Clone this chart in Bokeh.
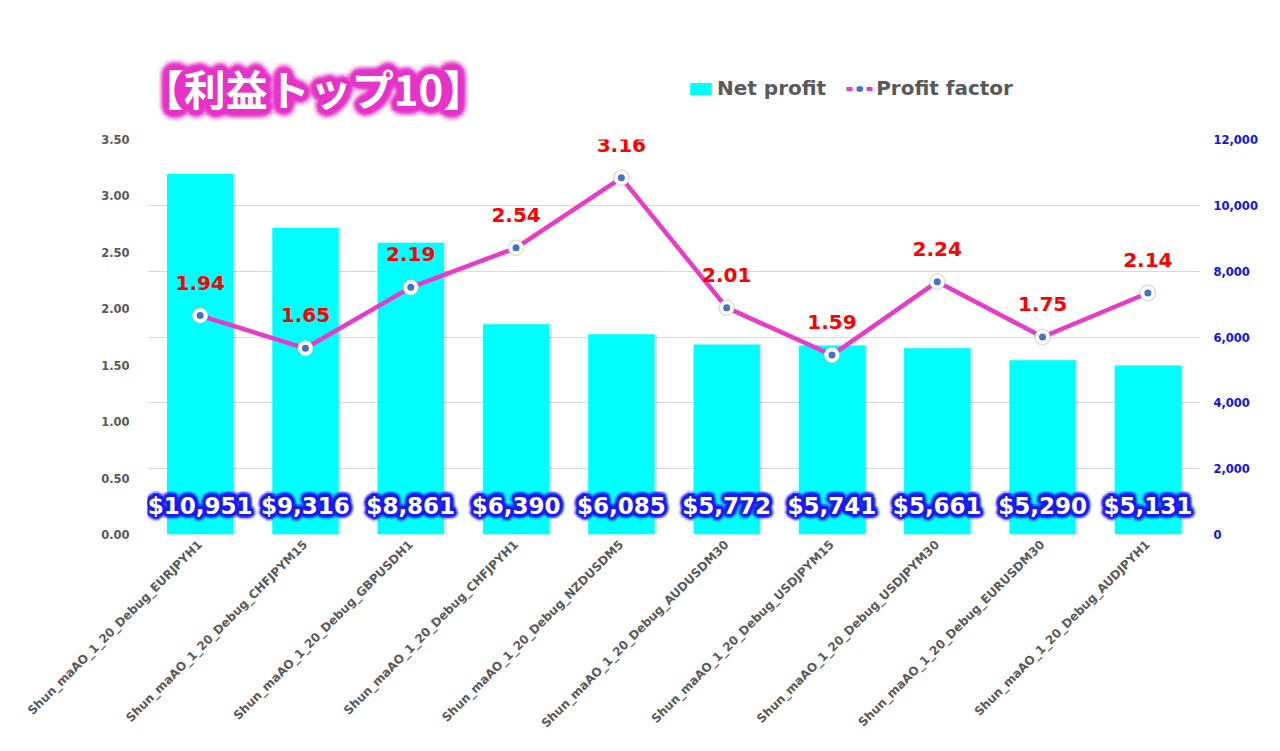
import math
from bokeh.plotting import figure
from bokeh.layouts import column
from bokeh.models import (Range1d, LinearAxis, FixedTicker, NumeralTickFormatter, Grid, Label,
                          Legend, LegendItem, ColumnDataSource, FactorRange)
from bokeh.core.properties import value
from bokeh.transform import dodge
from bokeh.embed import file_html
from bokeh.resources import INLINE

# ---------------- data ----------------
strategies = [
    "Shun_maAO_1_20_Debug_EURJPYH1",
    "Shun_maAO_1_20_Debug_CHFJPYM15",
    "Shun_maAO_1_20_Debug_GBPUSDH1",
    "Shun_maAO_1_20_Debug_CHFJPYH1",
    "Shun_maAO_1_20_Debug_NZDUSDM5",
    "Shun_maAO_1_20_Debug_AUDUSDM30",
    "Shun_maAO_1_20_Debug_USDJPYM15",
    "Shun_maAO_1_20_Debug_USDJPYM30",
    "Shun_maAO_1_20_Debug_EURUSDM30",
    "Shun_maAO_1_20_Debug_AUDJPYH1",
]
net_profit = [10951, 9316, 8861, 6390, 6085, 5772, 5741, 5661, 5290, 5131]
profit_factor = [1.94, 1.65, 2.19, 2.54, 3.16, 2.01, 1.59, 2.24, 1.75, 2.14]
left_ticks = [0.0, 0.5, 1.0, 1.5, 2.0, 2.5, 3.0, 3.5]
right_ticks = [0, 2000, 4000, 6000, 8000, 10000, 12000]
title_text = "【利益トップ10】"
legend_labels = ["Net profit", "Profit factor"]

GRAY = "#595959"
CYAN = "#00FFFF"
MAGENTA = "#E83CC8"
BLUE_DOT = "#4472C4"

src = ColumnDataSource(dict(
    x=strategies,
    np=net_profit,
    pf=profit_factor,
    np_label=["${:,}".format(v) for v in net_profit],
    pf_label=["{:.2f}".format(v) for v in profit_factor],
))

FRAME_L = 147
# ---------------- header (title + legend) ----------------
TOP_H = 129
head = figure(width=1280, height=TOP_H, x_range=Range1d(0, 1), y_range=Range1d(0, 1),
              x_axis_type=None, y_axis_type=None, output_backend="svg", toolbar_location=None,
              min_border=0, outline_line_color=None,
              background_fill_color="white", border_fill_color="white")
head.xgrid.visible = False
head.ygrid.visible = False

tx, ty = 313 - FRAME_L, TOP_H - 87
for r, a in [(11.0, 0.08), (9.0, 0.15), (7.0, 0.3), (5.0, 0.55), (3.0, 0.9), (1.5, 1.0)]:
    n = 24
    for k in range(n):
        ang = 2 * math.pi * k / n
        head.add_layout(Label(x=tx, y=ty, x_units="screen", y_units="screen", text=title_text,
                              x_offset=r * math.cos(ang), y_offset=r * math.sin(ang),
                              text_align="center", text_baseline="middle",
                              text_color="#E632C8", text_alpha=a,
                              text_font="Noto Sans CJK JP", text_font_style="bold",
                              text_font_size="42px"))
head.add_layout(Label(x=tx, y=ty, x_units="screen", y_units="screen", text=title_text,
                      text_align="center", text_baseline="middle", text_color="white",
                      text_font="Noto Sans CJK JP", text_font_style="bold", text_font_size="42px"))

dummy = ColumnDataSource(dict(x=[-10], y=[-10], top=[-10]))
leg_bar = head.vbar(x="x", top="top", source=dummy, width=0.1, fill_color=CYAN, line_color=None)
leg_line = head.line(x="x", y="y", source=dummy, line_color=MAGENTA, line_width=4, line_dash="6 4")
leg_dot = head.scatter(x="x", y="y", source=dummy, size=7, fill_color=BLUE_DOT, line_color=None)
legend = Legend(items=[LegendItem(label=legend_labels[0], renderers=[leg_bar]),
                       LegendItem(label=legend_labels[1], renderers=[leg_line, leg_dot])],
                location=(687 - FRAME_L, 29), orientation="horizontal",
                label_text_font="DejaVu Sans", label_text_font_style="bold",
                label_text_font_size="20px", label_text_color=GRAY,
                glyph_width=27, glyph_height=15, label_standoff=3, spacing=20,
                padding=0, margin=0, border_line_color=None, background_fill_alpha=0)
head.add_layout(legend, "center")

# ---------------- main chart ----------------
p = figure(x_range=FactorRange(*strategies), y_range=Range1d(0, 3.5),
           width=1280, height=751 - TOP_H, output_backend="svg", toolbar_location=None,
           min_border_left=FRAME_L, min_border_right=80, min_border_top=139 - TOP_H,
           min_border_bottom=217,
           background_fill_color="white", border_fill_color="white", outline_line_color=None)
p.extra_y_ranges = {"np": Range1d(0, 12000)}

p.xgrid.visible = False
p.ygrid.visible = False
p.add_layout(Grid(dimension=1, ticker=FixedTicker(ticks=right_ticks), y_range_name="np",
                  grid_line_color="#D9D9D9", grid_line_width=1))

ly = p.yaxis[0]
ly.ticker = FixedTicker(ticks=left_ticks)
ly.formatter = NumeralTickFormatter(format="0.00")
ly.major_label_standoff = 18
ly.major_label_text_color = GRAY

ry = LinearAxis(y_range_name="np", ticker=FixedTicker(ticks=right_ticks),
                formatter=NumeralTickFormatter(format="0,0"))
ry.major_label_standoff = 13
ry.major_label_text_color = "#1010F0"
p.add_layout(ry, "right")

for ax in [ly, ry, p.xaxis[0]]:
    ax.axis_line_color = None
    ax.major_tick_line_color = None
    ax.minor_tick_line_color = None
    ax.major_tick_out = 0
    ax.major_tick_in = 0
    ax.minor_tick_out = 0
    ax.major_label_text_font = "DejaVu Sans"
    ax.major_label_text_font_style = "bold"
    ax.major_label_text_font_size = "11.5px"

xa = p.xaxis[0]
xa.major_label_orientation = math.pi / 4
xa.major_label_text_color = GRAY
xa.major_label_standoff = 8
xa.major_label_text_font_size = "12px"

# bars (shadow + bar)
p.vbar(x=dodge("x", 0.025, range=p.x_range), top="np", width=0.63, source=src, y_range_name="np",
       fill_color="#000000", fill_alpha=0.13, line_color=None)
p.vbar(x="x", top="np", width=0.63, source=src, y_range_name="np",
       fill_color=CYAN, line_color=None)

# line + markers
p.line(x="x", y="pf", source=src, line_color=MAGENTA, line_width=4.5)
p.scatter(x="x", y="pf", source=src, size=17, fill_color="#000000", fill_alpha=0.12, line_color=None)
p.scatter(x="x", y="pf", source=src, size=15, fill_color="white", line_color="#DDDDDD", line_width=1)
p.scatter(x="x", y="pf", source=src, size=7, fill_color=BLUE_DOT, line_color=None)

# profit factor labels
p.text(x="x", y="pf", text="pf_label", source=src, y_offset=-33,
       text_align="center", text_baseline="middle", text_color="#FF0000",
       text_font=value("DejaVu Sans"), text_font_style="bold", text_font_size="20px")

# net profit labels with blue glow
for r, a in [(6.0, 0.12), (4.5, 0.25), (3.0, 0.6), (1.6, 1.0)]:
    n = 16
    for k in range(n):
        ang = 2 * math.pi * k / n
        p.text(x="x", y=0, text="np_label", source=src, y_range_name="np",
               x_offset=r * math.cos(ang), y_offset=-29 + r * math.sin(ang),
               text_align="center", text_baseline="middle", text_color="#1A1AF0", text_alpha=a,
               text_font=value("DejaVu Sans"), text_font_style="bold", text_font_size="23px")
p.text(x="x", y=0, text="np_label", source=src, y_range_name="np", y_offset=-29,
       text_align="center", text_baseline="middle", text_color="white",
       text_font=value("DejaVu Sans"), text_font_style="bold", text_font_size="23px")

layout = column(head, p, spacing=0)
open("out.html", "w").write(file_html(layout, INLINE))
